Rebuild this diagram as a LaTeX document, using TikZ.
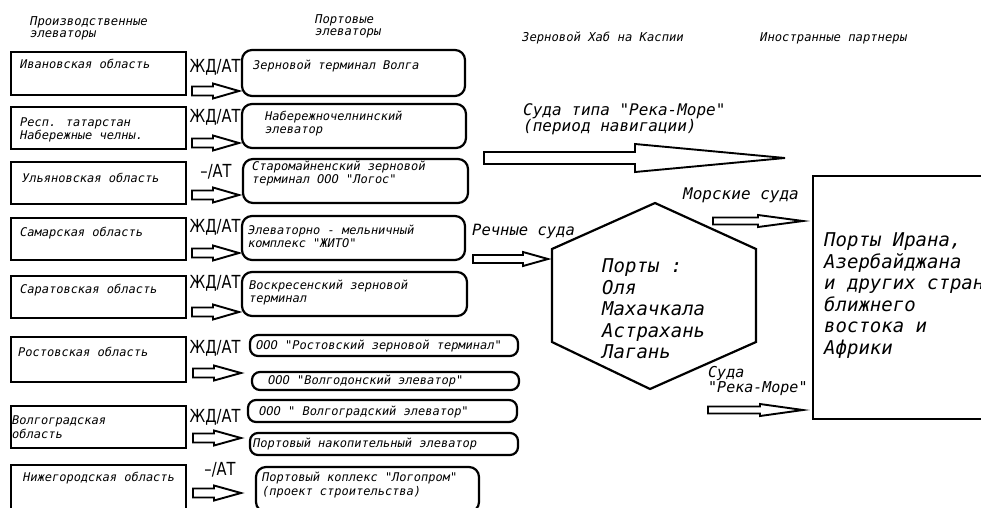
\documentclass[tikz,border=0pt]{standalone}
\usepackage{fontspec}
\setmainfont{DejaVu Sans Mono}
\newfontfamily\obl{DejaVu Sans Mono Oblique}
\newfontfamily\cond{DejaVu Sans Condensed}[FakeStretch=0.9]
\newcommand\boxnode[6]{\node[#2, minimum width={#5-#3}, minimum height={#6-#4}] (#1) at ({(#3+#5)/2},{(#4+#6)/2}) {};}
\newcommand\hollow[6]{\draw[blockarr] (#1,#4-#5) -- (#2,#4-#5) -- (#2,#4-#6) -- (#3,#4) -- (#2,#4+#6) -- (#2,#4+#5) -- (#1,#4+#5) -- cycle;}
\begin{document}
\begin{tikzpicture}[x=1pt,y=-1pt,
  lbox/.style={draw, line width=2.6pt, inner sep=0pt},
  mbox/.style={draw, line width=2.2pt, rounded corners=10pt, inner sep=0pt},
  sbox/.style={draw, line width=2.2pt, rounded corners=8pt, inner sep=0pt},
  rbox/.style={draw, line width=2.2pt, inner sep=0pt},
  blockarr/.style={draw, line width=1.9pt, fill=white, line join=miter},
  txt/.style={inner sep=0pt, anchor=west, align=left, font=\obl\fontsize{12}{13.5}\selectfont},
  hdr/.style={inner sep=0pt, anchor=west, align=left, font=\obl\fontsize{12.2}{12}\selectfont},
  mode/.style={inner sep=0pt, font=\cond\fontsize{18}{18}\selectfont},
  big/.style={inner sep=0pt, anchor=west, align=left, font=\obl\fontsize{16}{16}\selectfont},
  huge/.style={inner sep=0pt, anchor=west, align=left, font=\obl\fontsize{19}{21.5}\selectfont}]
\clip (0,0) rectangle (981,507);
\fill[white] (0,0) rectangle (981,507);
% headers
\node[hdr] (h1) at (30,28) {Производственные\\элеваторы};
\node[hdr] (h2) at (315,26) {Портовые\\элеваторы};
\node[hdr] (h3) at (522,38) {Зерновой Хаб на Каспии};
\node[hdr] (h4) at (760,38) {Иностранные партнеры};
% left boxes
\boxnode{L1}{lbox}{11}{52}{186}{95}
\boxnode{L2}{lbox}{11}{107}{186}{149}
\boxnode{L3}{lbox}{11}{162}{186}{204}
\boxnode{L4}{lbox}{11}{218}{186}{260}
\boxnode{L5}{lbox}{11}{276}{186}{318}
\boxnode{L6}{lbox}{11}{337}{186}{382}
\boxnode{L7}{lbox}{11}{406}{186}{448}
\boxnode{L8}{lbox}{11}{465}{186}{520}
\node[txt] (tL1) at (20,64) {Ивановская область};
\node[txt] (tL2) at (20,130) {Респ. татарстан\\Набережные челны.};
\node[txt] (tL3) at (22,178) {Ульяновская область};
\node[txt] (tL4) at (20,233) {Самарская область};
\node[txt] (tL5) at (20,290) {Саратовская область};
\node[txt] (tL6) at (18,352) {Ростовская область};
\node[txt] (tL7) at (12,427) {Волгоградская\\область};
\node[txt] (tL8) at (23,478) {Нижегородская область};
% middle boxes
\boxnode{P1}{mbox}{242}{50}{465}{96}
\boxnode{P2}{mbox}{242}{104}{466}{148}
\boxnode{P3}{mbox}{243}{159}{468}{203}
\boxnode{P4}{mbox}{242}{216}{465}{260}
\boxnode{P5}{mbox}{242}{272}{467}{316}
\boxnode{P6a}{sbox}{250}{335}{518}{356}
\boxnode{P6b}{sbox}{252}{372}{519}{390}
\boxnode{P7a}{sbox}{248}{400}{517}{422}
\boxnode{P7b}{sbox}{250}{433}{518}{455}
\boxnode{P8}{mbox}{256}{467}{479}{512}
\node[txt] (tP1) at (253,66) {Зерновой терминал Волга};
\node[txt] (tP2) at (265,123.5) {Набережночелнинский\\элеватор};
\node[txt] (tP3) at (252,173.5) {Старомайненский зерновой\\терминал ООО "Логос"};
\node[txt] (tP4) at (248,236.5) {Элеваторно - мельничный\\комплекс "ЖИТО"};
\node[txt] (tP5) at (249,292.5) {Воскресенский зерновой\\терминал};
\node[txt] (tP6a) at (256,346) {ООО "Ростовский зерновой терминал"};
\node[txt] (tP6b) at (268,381) {ООО "Волгодонский элеватор"};
\node[txt] (tP7a) at (259,412) {ООО " Волгоградский элеватор"};
\node[txt] (tP7b) at (253,444) {Портовый накопительный элеватор};
\node[txt] (tP8) at (262,485) {Портовый коплекс "Логопром"\\(проект строительства)};
% mode labels
\node[mode] (m1) at (215,67) {ЖД/АТ};
\node[mode] (m2) at (215,117) {ЖД/АТ};
\node[mode] (m3) at (216,172) {–/АТ};
\node[mode] (m4) at (215,227) {ЖД/АТ};
\node[mode] (m5) at (215,283) {ЖД/АТ};
\node[mode] (m6) at (215,348) {ЖД/АТ};
\node[mode] (m7) at (215,417) {ЖД/АТ};
\node[mode] (m8) at (220,470) {–/АТ};
% small arrows
\hollow{192}{213}{239}{91}{4.5}{7.5}
\hollow{192}{213}{239}{143}{4.5}{7.5}
\hollow{192}{213}{239}{195}{4.5}{7.5}
\hollow{192}{213}{239}{253}{4.5}{7.5}
\hollow{192}{213}{239}{312}{4.5}{7.5}
\hollow{193}{214}{241}{373}{4.5}{7.5}
\hollow{193}{214}{241}{438}{4.5}{7.5}
\hollow{193}{214}{241}{493}{4.5}{7.5}
% hub
\coordinate (x1) at (655,203);
\coordinate (x2) at (756,249);
\coordinate (x3) at (756,342);
\coordinate (x4) at (650,389);
\coordinate (x5) at (552,342);
\coordinate (x6) at (552,249);
\draw[line width=2.2pt, line join=miter] (x1) -- (x2) -- (x3) -- (x4) -- (x5) -- (x6) -- cycle;
\node[huge] (hub) at (602,309) {Порты :\\Оля\\Махачкала\\Астрахань\\Лагань};
% right box
\boxnode{R}{rbox}{813}{176}{1000}{419}
\node[huge] (tR) at (824,295.5) {Порты Ирана,\\Азербайджана\\и других стран\\ближнего\\востока и\\Африки};
% flows
\node[big] (s1) at (523,119) {Суда типа "Река-Море"\\(период навигации)};
\hollow{484}{635}{785}{158}{6}{14}
\node[big, font=\obl\fontsize{15.5}{16}\selectfont] (rs) at (472,231) {Речные суда};
\hollow{473}{523}{548}{259}{4}{7}
\node[big] (ms) at (683,195) {Морские суда};
\hollow{713}{758}{803}{221}{3.5}{6}
\node[big, font=\obl\fontsize{15}{15}\selectfont] (s2) at (708,381) {Суда\\"Река-Море"};
\hollow{708}{760}{803}{410}{3.5}{6}
\end{tikzpicture}
\end{document}
